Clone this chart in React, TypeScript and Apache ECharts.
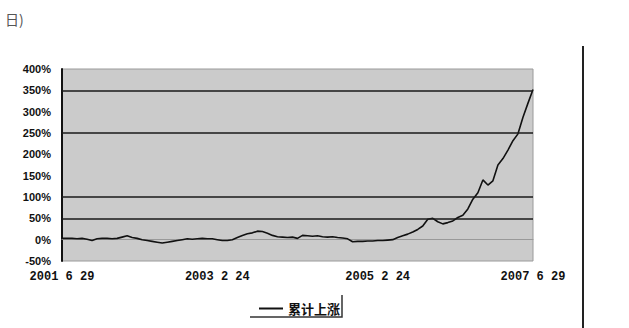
import React, { useEffect, useRef } from "react";
import * as echarts from "echarts";

const titleText = "日)";
const seriesName = "累计上涨";
const values = [
  3, 3, 3, 2, 3, 1, -2, 2, 3, 3, 2, 3, 6, 9, 5, 3, 0, -2, -4, -6,
  -8, -6, -4, -2, 0, 2, 1, 2, 3, 2, 2, 0, -2, -2, 0, 5, 10, 14, 16, 20,
  19, 15, 10, 7, 6, 5, 6, 3, 10, 9, 8, 9, 7, 6, 7, 5, 4, 2, -5, -4,
  -4, -3, -3, -2, -2, -1, 0, 5, 9, 13, 18, 24, 32, 48, 50, 42, 37, 40, 44, 52,
  57, 72, 95, 110, 140, 128, 138, 175, 190, 210, 232, 248, 287, 320, 352,
];
const xTickLabels = ["2001 6 29", "2003 2 24", "2005 2 24", "2007 6 29"];
const yMin = -50;
const yMax = 400;
const yStep = 50;
const refLines = [350, 250, 100, 50];

export default function App() {
  const ref = useRef<HTMLDivElement>(null);
  useEffect(() => {
    if (!ref.current) return;
    const chart = echarts.init(ref.current, null, { renderer: "svg" });
    const n = values.length;
    const cats = values.map((_, i) => String(i));
    const labelIdx = xTickLabels.map((_, k) =>
      Math.round((k * (n - 1)) / (xTickLabels.length - 1))
    );
    chart.setOption({
      animation: false,
      grid: {
        left: 62,
        right: 96,
        top: 69,
        bottom: 67,
        show: true,
        backgroundColor: "#cbcbcb",
        borderColor: "#9a9a9a",
        borderWidth: 1,
      },
      legend: {
        left: 254,
        top: 297,
        itemWidth: 24,
        itemHeight: 2,
        data: [{ name: seriesName, icon: "rect" }],
        textStyle: {
          fontSize: 13,
          fontWeight: "bold",
          color: "#111",
          fontFamily: "Noto Sans CJK SC",
        },
      },
      xAxis: {
        type: "category",
        boundaryGap: false,
        data: cats,
        axisLine: { lineStyle: { color: "#999", width: 1 } },
        axisTick: { show: false },
        splitLine: { show: false },
        axisLabel: {
          interval: (i: number) => labelIdx.includes(i),
          formatter: (_v: string, i: number) => {
            const k = labelIdx.indexOf(i);
            return k >= 0 ? xTickLabels[k] : "";
          },
          showMinLabel: true,
          showMaxLabel: true,
          margin: 10,
          fontSize: 12,
          fontWeight: "bold",
          fontFamily: "Liberation Mono",
          color: "#111",
        },
      },
      yAxis: {
        type: "value",
        min: yMin,
        max: yMax,
        interval: yStep,
        axisLine: { show: true, lineStyle: { color: "#111", width: 2 } },
        axisTick: { show: false },
        splitLine: { show: false },
        axisLabel: {
          formatter: "{value}%",
          margin: 11,
          fontSize: 11,
          fontWeight: "bold",
          fontFamily: "Liberation Sans",
          color: "#111",
        },
      },
      series: [
        {
          name: seriesName,
          type: "line",
          data: values,
          symbol: "none",
          lineStyle: { color: "#111", width: 1.6 },
          itemStyle: { color: "#111" },
          markLine: {
            silent: true,
            symbol: ["none", "none"],
            label: { show: false },
            lineStyle: { color: "#1a1a1a", width: 1.6, type: "solid" },
            data: refLines.map((v) => ({ yAxis: v })),
          },
        },
      ],
      graphic: [
        {
          type: "text",
          left: 5,
          top: 12,
          style: {
            text: titleText,
            fontSize: 14,
            fill: "#555",
            fontFamily: "Noto Sans CJK SC",
          },
        },
        {
          type: "line",
          shape: { x1: 583, y1: 46, x2: 583, y2: 328 },
          style: { stroke: "#222", lineWidth: 2 },
        },
        {
          type: "polyline",
          shape: { points: [[250, 317], [342, 317], [342, 295]] },
          style: { stroke: "#333", lineWidth: 1.5, fill: "none" },
        },
      ],
    });
    return () => chart.dispose();
  }, []);
  return (
    <div
      ref={ref}
      style={{ width: 629, height: 328, position: "absolute", left: 0, top: 0 }}
    />
  );
}
